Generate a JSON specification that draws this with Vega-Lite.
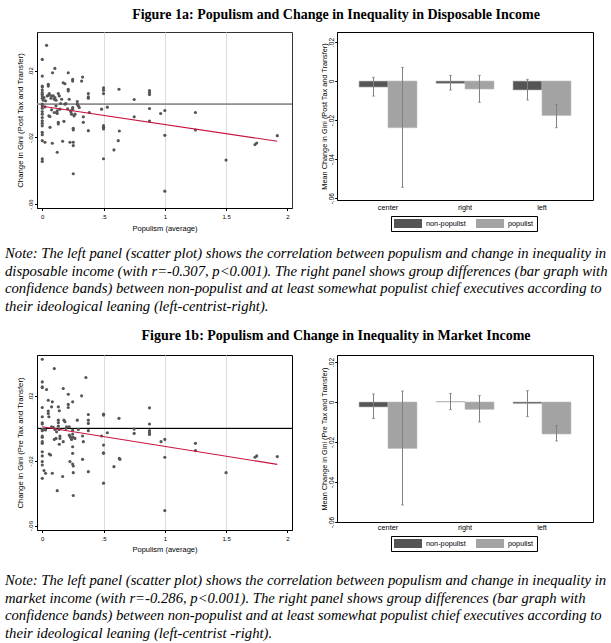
{
  "$schema": "https://vega.github.io/schema/vega-lite/v6.json",
  "background": "white",
  "padding": 0,
  "spacing": 0,
  "bounds": "flush",
  "columns": 4,
  "resolve": {"scale": {"color": "independent"}, "legend": {"color": "independent"}},
  "config": {
    "font": "Liberation Sans",
    "view": {"stroke": null},
    "axis": {"labelFont": "Liberation Sans", "titleFont": "Liberation Sans", "labelColor": "#000", "titleColor": "#000", "titleFontWeight": "normal", "tickColor": "#000", "domainColor": "#000", "labelOverlap": false, "labelFlush": false}
  },
  "datasets": {
    "title_a": [{"text": "Figure 1a: Populism and Change in Inequality in Disposable Income"}],
    "title_b": [{"text": "Figure 1b: Populism and Change in Inequality in Market Income"}],
    "note_a": [
      {"line": 1, "text": "Note: The left panel (scatter plot) shows the correlation between populism and change in inequality in"},
      {"line": 2, "text": "disposable income (with r=-0.307, p<0.001). The right panel shows group differences (bar graph with"},
      {"line": 3, "text": "confidence bands) between non-populist and at least somewhat populist chief executives according to"},
      {"line": 4, "text": "their ideological leaning (left-centrist-right)."}
    ],
    "note_b": [
      {"line": 1, "text": "Note: The left panel (scatter plot) shows the correlation between populism and change in inequality in"},
      {"line": 2, "text": "market income (with r=-0.286, p<0.001). The right panel shows group differences (bar graph with"},
      {"line": 3, "text": "confidence bands) between non-populist and at least somewhat populist chief executives according to"},
      {"line": 4, "text": "their ideological leaning (left-centrist -right)."}
    ],
    "fit_a": [{"p": 0, "g": -0.0012}, {"p": 1.918, "g": -0.0223}],
    "fit_b": [{"p": 0, "g": 0.001}, {"p": 1.918, "g": -0.0222}],
    "bars_a": [
      {"ideo": "center", "group": "non-populist", "mean": -0.0031, "lo": -0.0077, "hi": 0.0019},
      {"ideo": "center", "group": "populist", "mean": -0.0239, "lo": -0.0544, "hi": 0.007},
      {"ideo": "right", "group": "non-populist", "mean": -0.0012, "lo": -0.0046, "hi": 0.0029},
      {"ideo": "right", "group": "populist", "mean": -0.0041, "lo": -0.0109, "hi": 0.0029},
      {"ideo": "left", "group": "non-populist", "mean": -0.0046, "lo": -0.0097, "hi": 0.0009},
      {"ideo": "left", "group": "populist", "mean": -0.0177, "lo": -0.0239, "hi": -0.0119}
    ],
    "bars_b": [
      {"ideo": "center", "group": "non-populist", "mean": -0.0025, "lo": -0.0083, "hi": 0.004},
      {"ideo": "center", "group": "populist", "mean": -0.0232, "lo": -0.0515, "hi": 0.0055},
      {"ideo": "right", "group": "non-populist", "mean": 0.0002, "lo": -0.0038, "hi": 0.0043},
      {"ideo": "right", "group": "populist", "mean": -0.0037, "lo": -0.01, "hi": 0.0032},
      {"ideo": "left", "group": "non-populist", "mean": -0.0008, "lo": -0.0073, "hi": 0.0057},
      {"ideo": "left", "group": "populist", "mean": -0.016, "lo": -0.0195, "hi": -0.0118}
    ],
    "scatter_a": [
      {"p":0,"g":0.0269},{"p":0,"g":0.0169},{"p":0,"g":0.0109},{"p":0,"g":0.0103},{"p":0,"g":0.0085},{"p":0,"g":0.007},{"p":0,"g":0.006},{"p":0,"g":0.005},{"p":0,"g":0.0036},{"p":0.008,"g":0.0024},{"p":0,"g":0},{"p":0,"g":-0.001},{"p":0,"g":-0.0024},{"p":0,"g":-0.0044},{"p":0,"g":-0.006},{"p":0,"g":-0.008},{"p":0,"g":-0.01},{"p":0,"g":-0.0115},{"p":0,"g":-0.013},{"p":0,"g":-0.0169},{"p":0,"g":-0.0183},{"p":0,"g":-0.0219},{"p":0,"g":-0.0328},{"p":0,"g":-0.0344},
      {"p":0.035,"g":0.0354},{"p":0.027,"g":0.002},{"p":0.022,"g":-0.0016},{"p":0.022,"g":-0.0229},{"p":0.014,"g":0.004},{"p":0.041,"g":0.005},
      {"p":0.049,"g":0.0109},{"p":0.049,"g":0.0119},{"p":0.054,"g":0.0054},{"p":0.054,"g":-0.007},{"p":0.063,"g":-0.0139},{"p":0.057,"g":0.0064},{"p":0.071,"g":0.0036},{"p":0.062,"g":-0.0074},{"p":0.076,"g":-0.0034},
      {"p":0.076,"g":0.005},{"p":0.09,"g":0.005},{"p":0.084,"g":0.0189},{"p":0.103,"g":0.0215},{"p":0.082,"g":-0.0235},{"p":0.098,"g":0.003},{"p":0.098,"g":-0.005},
      {"p":0.103,"g":0.004},{"p":0.112,"g":-0.001},{"p":0.117,"g":-0.005},{"p":0.122,"g":-0.004},{"p":0.112,"g":0.0024},{"p":0.131,"g":0.0064},{"p":0.139,"g":0.005},{"p":0.122,"g":-0.0056},{"p":0.122,"g":-0.0289},{"p":0.131,"g":-0.0109},{"p":0.131,"g":-0.0119},{"p":0.144,"g":-0.003},{"p":0.15,"g":0.0004},{"p":0.158,"g":0.003},{"p":0.166,"g":-0.0223},{"p":0.171,"g":0.0129},{"p":0.185,"g":0.0123},{"p":0.177,"g":-0.0103},{"p":0.185,"g":0},{"p":0.193,"g":0.0004},{"p":0.207,"g":-0.0028},
      {"p":0.212,"g":0.0189},{"p":0.212,"g":0.008},{"p":0.212,"g":0.009},{"p":0.22,"g":0.003},{"p":0.226,"g":-0.0229},{"p":0.231,"g":-0.004},{"p":0.234,"g":-0.0046},{"p":0.239,"g":-0.006},{"p":0.248,"g":0.0139},{"p":0.248,"g":0.0149},{"p":0.248,"g":-0.002},{"p":0.248,"g":-0.003},{"p":0.253,"g":-0.0155},{"p":0.253,"g":-0.0145},{"p":0.253,"g":-0.0229},{"p":0.253,"g":-0.0249},{"p":0.253,"g":-0.0418},{"p":0.259,"g":-0.007},{"p":0.267,"g":-0.006},{"p":0.286,"g":0.0016},{"p":0.286,"g":0},{"p":0.294,"g":-0.001},{"p":0.302,"g":-0.002},{"p":0.329,"g":0.0163},{"p":0.321,"g":0.0139},{"p":0.335,"g":-0.0076},{"p":0.335,"g":-0.0109},{"p":0.376,"g":0.0064},{"p":0.376,"g":0.0044},{"p":0.376,"g":0.0036},{"p":0.384,"g":-0.005},{"p":0.376,"g":-0.0159},
      {"p":0.484,"g":-0.003},{"p":0.5,"g":0.0098},{"p":0.5,"g":0.0084},{"p":0.5,"g":0.0064},{"p":0.5,"g":-0.0139},{"p":0.5,"g":-0.0149},{"p":0.5,"g":-0.0129},{"p":0.5,"g":-0.0328},{"p":0.531,"g":-0.0018},{"p":0.626,"g":0.009},{"p":0.629,"g":-0.0161},{"p":0.62,"g":-0.0219},{"p":0.585,"g":-0.0275},{"p":0.75,"g":0.0028},{"p":0.75,"g":-0.0076},{"p":0.875,"g":0.0082},{"p":0.875,"g":0.007},{"p":0.875,"g":0.0058},{"p":0.875,"g":-0.0026},{"p":0.875,"g":-0.0101},{"p":0.966,"g":-0.0056},{"p":1,"g":-0.0038},{"p":1,"g":-0.0187},{"p":1,"g":-0.0523},{"p":1.25,"g":-0.005},{"p":1.25,"g":-0.0155},{"p":1.5,"g":-0.0336},{"p":1.736,"g":-0.0243},{"p":1.75,"g":-0.0233},{"p":1.918,"g":-0.0189}
    ],
    "scatter_b": [
      {"p":0,"g":0.0427},{"p":0,"g":0.0287},{"p":0,"g":0.0256},{"p":0,"g":0.0252},{"p":0,"g":0.0129},{"p":0,"g":0.0072},{"p":0,"g":0.0035},{"p":0,"g":0.0027},{"p":0,"g":-0.0006},{"p":0,"g":-0.0014},{"p":0,"g":-0.0047},{"p":0,"g":-0.0055},{"p":0,"g":-0.0082},{"p":0,"g":-0.0092},{"p":0,"g":-0.0144},{"p":0,"g":-0.017},{"p":0,"g":-0.0205},{"p":0,"g":-0.0226},{"p":0,"g":-0.0308},
      {"p":0.035,"g":0.024},{"p":0.014,"g":-0.0006},{"p":0.027,"g":-0.001},
      {"p":0.049,"g":0.0174},{"p":0.049,"g":0.0107},{"p":0.049,"g":0.0092},{"p":0.054,"g":0.0072},
      {"p":0.057,"g":-0.0158},{"p":0.068,"g":-0.0164},{"p":0.014,"g":-0.026},{"p":0.027,"g":-0.0277},
      {"p":0.082,"g":0.0164},{"p":0.082,"g":-0.0277},{"p":0.076,"g":0.0133},{"p":0.076,"g":0.001},{"p":0.09,"g":0.0006},{"p":0.098,"g":0.0369},
      {"p":0.103,"g":-0.0006},{"p":0.098,"g":-0.0068},{"p":0.112,"g":-0.0062},{"p":0.117,"g":-0.0021},{"p":0.122,"g":-0.0384},
      {"p":0.131,"g":0.0133},{"p":0.139,"g":0.0109},{"p":0.131,"g":0.0051},{"p":0.131,"g":0.0035},{"p":0.131,"g":0.0014},{"p":0.139,"g":-0.0006},
      {"p":0.144,"g":-0.0047},{"p":0.144,"g":-0.0062},{"p":0.139,"g":-0.0098},{"p":0.166,"g":-0.0297},{"p":0.171,"g":0.0246},
      {"p":0.177,"g":0.0051},{"p":0.185,"g":0.0041},{"p":0.171,"g":-0.0082},{"p":0.193,"g":0},{"p":0.199,"g":0.001},
      {"p":0.212,"g":0.0148},{"p":0.212,"g":0.0129},{"p":0.212,"g":0.0211},{"p":0.22,"g":0.001},{"p":0.226,"g":-0.0205},{"p":0.22,"g":-0.0041},{"p":0.226,"g":-0.0047},{"p":0.231,"g":-0.0055},{"p":0.239,"g":-0.0068},
      {"p":0.248,"g":0.0164},{"p":0.248,"g":-0.001},{"p":0.248,"g":-0.0035},{"p":0.253,"g":-0.0055},{"p":0.248,"g":-0.0113},{"p":0.248,"g":-0.0154},{"p":0.248,"g":-0.022},{"p":0.253,"g":-0.0232},{"p":0.253,"g":-0.0273},{"p":0.253,"g":-0.0414},
      {"p":0.267,"g":-0.0062},{"p":0.286,"g":0.0051},{"p":0.294,"g":-0.0006},{"p":0.321,"g":0.0201},{"p":0.329,"g":-0.0047},{"p":0.335,"g":-0.0082},{"p":0.329,"g":-0.0191},{"p":0.356,"g":0.0314},
      {"p":0.376,"g":0.0086},{"p":0.376,"g":0.0051},{"p":0.376,"g":0.0031},{"p":0.376,"g":-0.0014},{"p":0.376,"g":-0.0267},
      {"p":0.484,"g":-0.0047},{"p":0.5,"g":0.0088},{"p":0.5,"g":0.0082},{"p":0.5,"g":-0.0103},{"p":0.5,"g":-0.015},{"p":0.5,"g":-0.0154},{"p":0.5,"g":-0.0338},{"p":0.531,"g":-0.0027},
      {"p":0.626,"g":0.0062},{"p":0.629,"g":-0.0185},{"p":0.634,"g":-0.0191},{"p":0.585,"g":-0.0236},{"p":0.75,"g":-0.0004},{"p":0.75,"g":-0.0031},
      {"p":0.875,"g":0.0127},{"p":0.875,"g":0.0027},{"p":0.875,"g":-0.0014},{"p":0.875,"g":-0.0027},{"p":0.875,"g":-0.0037},
      {"p":0.969,"g":-0.0082},{"p":1,"g":-0.0068},{"p":1,"g":-0.0178},{"p":1,"g":-0.0507},{"p":1.25,"g":-0.0092},{"p":1.25,"g":-0.0137},{"p":1.5,"g":-0.0273},{"p":1.736,"g":-0.0178},{"p":1.75,"g":-0.017},{"p":1.918,"g":-0.0174}
    ]
  },
  "concat": [
    {
      "width": 37, "height": 32,
      "data": {"name": "title_a"},
      "mark": {"type": "text", "font": "Liberation Serif", "fontSize": 14, "fontWeight": "bold", "align": "center", "baseline": "middle", "x": 336, "y": 15, "color": "#000"},
      "encoding": {"text": {"field": "text", "type": "nominal"}}
    },
    {"width": 1, "height": 1, "data": {"values": []}, "mark": "point"},
    {"width": 1, "height": 1, "data": {"values": []}, "mark": "point"},
    {"width": 1, "height": 1, "data": {"values": []}, "mark": "point"},

    {"width": 37, "height": 1, "data": {"values": []}, "mark": "point"},
    {
      "width": 255, "height": 176,
      "view": {"stroke": "#333", "strokeWidth": 1},
      "layer": [
        {"data": {"name": "fit_a"}, "mark": {"type": "rule", "color": "#8a8a8a", "strokeWidth": 1.2}, "encoding": {"y": {"datum": 0, "type": "quantitative", "scale": {"domain": [-0.0624, 0.0434], "nice": false, "zero": false}}}},
        {"data": {"name": "scatter_a"}, "mark": {"type": "circle", "size": 10, "color": "#555555", "opacity": 1},
          "encoding": {
            "x": {"field": "p", "type": "quantitative", "scale": {"domain": [-0.043, 2.038], "nice": false, "zero": false},
              "axis": {"title": "Populism (average)", "values": [0, 0.5, 1, 1.5, 2], "labelExpr": "replace(toString(datum.value), '0.', '.')", "grid": true, "gridColor": "#dcdcdc", "gridOpacity": {"condition": {"test": "datum.value == 0 || datum.value == 2", "value": 0}, "value": 1}, "tickSize": 2.5, "labelFontSize": 6, "labelPadding": 3, "titleFontSize": 7.5, "titlePadding": 5}},
            "y": {"field": "g", "type": "quantitative", "scale": {"domain": [-0.0624, 0.0434], "nice": false, "zero": false},
              "axis": {"title": "Change in Gini (Post Tax and Transfer)", "values": [-0.06, -0.04, -0.02, 0, 0.02, 0.04], "labelExpr": "replace(toString(datum.value), '0.', '.')", "grid": false, "tickSize": 2.5, "labelAngle": 270, "labelAlign": "center", "labelBaseline": "alphabetic", "labelFontSize": 6, "labelPadding": 2, "titleFontSize": 7.8, "titlePadding": 3}}
          }},
        {"data": {"name": "fit_a"}, "mark": {"type": "line", "color": "#c8143c", "strokeWidth": 1.1},
          "encoding": {
            "x": {"field": "p", "type": "quantitative", "scale": {"domain": [-0.043, 2.038], "nice": false, "zero": false}},
            "y": {"field": "g", "type": "quantitative", "scale": {"domain": [-0.0624, 0.0434], "nice": false, "zero": false}}
          }}
      ]
    },
    {"width": 45, "height": 1, "data": {"values": []}, "mark": "point"},
    {
      "width": 256, "height": 168,
      "view": {"stroke": "#000", "strokeWidth": 1},
      "data": {"name": "bars_a"},
      "encoding": {
        "x": {"field": "ideo", "type": "nominal", "sort": ["center", "right", "left"], "scale": {"paddingInner": 0.247, "paddingOuter": 0.286},
          "axis": {"title": null, "labelAngle": 0, "ticks": false, "tickSize": 0, "domain": false, "labelPadding": 3, "labelFontSize": 7.3}},
        "xOffset": {"field": "group", "type": "nominal", "sort": ["non-populist", "populist"], "scale": {"paddingInner": 0, "paddingOuter": 0}}
      },
      "layer": [
        {"mark": {"type": "bar", "stroke": "#bdbdbd", "strokeWidth": 0.6},
          "encoding": {
            "y": {"field": "mean", "type": "quantitative", "title": "Mean Change in Gini (Post Tax and Transfer)", "scale": {"domain": [-0.0609, 0.0251], "nice": false},
              "axis": {"values": [-0.06, -0.04, -0.02, 0, 0.02], "labelExpr": "replace(toString(datum.value), '0.', '.')", "grid": false, "tickSize": 2.3, "labelAngle": 270, "labelAlign": "center", "labelBaseline": "alphabetic", "labelFontSize": 6.5, "labelPadding": 1.4, "titleFontSize": 7.3, "titlePadding": 0}},
            "color": {"field": "group", "type": "nominal", "sort": ["non-populist", "populist"], "scale": {"domain": ["non-populist", "populist"], "range": ["#555555", "#a3a3a3"]},
              "legend": {"orient": "none", "legendX": 54, "legendY": 184, "direction": "horizontal", "title": null, "strokeColor": "#000", "padding": 3, "symbolType": "M-3.111,-1H3.111V1H-3.111Z", "symbolSize": 81, "symbolStrokeWidth": 0, "symbolOffset": 9.5, "symbolOpacity": 1, "labelOffset": 13.5, "columnPadding": 10, "labelFont": "Liberation Sans", "labelFontSize": 7.3, "labelColor": "#000"}}
          }},
        {"mark": {"type": "rule", "color": "#808080", "strokeWidth": 1},
          "encoding": {"y": {"field": "lo", "type": "quantitative", "title": "Mean Change in Gini (Post Tax and Transfer)", "scale": {"domain": [-0.0609, 0.0251], "nice": false}}, "y2": {"field": "hi"}}},
        {"mark": {"type": "tick", "color": "#808080", "size": 3, "thickness": 1},
          "encoding": {"y": {"field": "lo", "type": "quantitative", "title": "Mean Change in Gini (Post Tax and Transfer)", "scale": {"domain": [-0.0609, 0.0251], "nice": false}}}},
        {"mark": {"type": "tick", "color": "#808080", "size": 3, "thickness": 1},
          "encoding": {"y": {"field": "hi", "type": "quantitative", "title": "Mean Change in Gini (Post Tax and Transfer)", "scale": {"domain": [-0.0609, 0.0251], "nice": false}}}}
      ]
    },

    {"width": 1, "height": 37, "data": {"values": []}, "mark": "point"},
    {"width": 1, "height": 1, "data": {"values": []}, "mark": "point"},
    {"width": 1, "height": 1, "data": {"values": []}, "mark": "point"},
    {"width": 1, "height": 1, "data": {"values": []}, "mark": "point"},

    {
      "width": 37, "height": 71,
      "data": {"name": "note_a"},
      "mark": {"type": "text", "font": "Liberation Serif", "fontSize": 14.7, "fontStyle": "italic", "align": "left", "baseline": "middle", "x": 5, "color": "#000"},
      "encoding": {"text": {"field": "text", "type": "nominal"}, "y": {"field": "line", "type": "ordinal", "axis": null, "scale": {"type": "point", "padding": 0.5}}}
    },
    {"width": 1, "height": 1, "data": {"values": []}, "mark": "point"},
    {"width": 1, "height": 1, "data": {"values": []}, "mark": "point"},
    {"width": 1, "height": 1, "data": {"values": []}, "mark": "point"},

    {
      "width": 37, "height": 39,
      "data": {"name": "title_b"},
      "mark": {"type": "text", "font": "Liberation Serif", "fontSize": 14, "fontWeight": "bold", "align": "center", "baseline": "middle", "x": 336, "y": 19.5, "color": "#000"},
      "encoding": {"text": {"field": "text", "type": "nominal"}}
    },
    {"width": 1, "height": 1, "data": {"values": []}, "mark": "point"},
    {"width": 1, "height": 1, "data": {"values": []}, "mark": "point"},
    {"width": 1, "height": 1, "data": {"values": []}, "mark": "point"},

    {"width": 37, "height": 1, "data": {"values": []}, "mark": "point"},
    {
      "width": 255, "height": 175,
      "view": {"stroke": "#000", "strokeWidth": 1},
      "layer": [
        {"data": {"name": "fit_b"}, "mark": {"type": "rule", "color": "#000000", "strokeWidth": 1}, "encoding": {"y": {"datum": 0, "type": "quantitative", "scale": {"domain": [-0.0627, 0.0453], "nice": false, "zero": false}}}},
        {"data": {"name": "scatter_b"}, "mark": {"type": "circle", "size": 10, "color": "#555555", "opacity": 1},
          "encoding": {
            "x": {"field": "p", "type": "quantitative", "scale": {"domain": [-0.043, 2.038], "nice": false, "zero": false},
              "axis": {"title": "Populism (average)", "values": [0, 0.5, 1, 1.5, 2], "labelExpr": "replace(toString(datum.value), '0.', '.')", "grid": true, "gridColor": "#dcdcdc", "gridOpacity": {"condition": {"test": "datum.value == 0 || datum.value == 2", "value": 0}, "value": 1}, "tickSize": 2.5, "labelFontSize": 6, "labelPadding": 3, "titleFontSize": 7.5, "titlePadding": 3.5}},
            "y": {"field": "g", "type": "quantitative", "scale": {"domain": [-0.0627, 0.0453], "nice": false, "zero": false},
              "axis": {"title": "Change in Gini (Pre Tax and Transfer)", "values": [-0.06, -0.04, -0.02, 0, 0.02, 0.04], "labelExpr": "replace(toString(datum.value), '0.', '.')", "grid": false, "tickSize": 2.5, "labelAngle": 270, "labelAlign": "center", "labelBaseline": "alphabetic", "labelFontSize": 6, "labelPadding": 2, "titleFontSize": 7.8, "titlePadding": 3}}
          }},
        {"data": {"name": "fit_b"}, "mark": {"type": "line", "color": "#c8143c", "strokeWidth": 1.1},
          "encoding": {
            "x": {"field": "p", "type": "quantitative", "scale": {"domain": [-0.043, 2.038], "nice": false, "zero": false}},
            "y": {"field": "g", "type": "quantitative", "scale": {"domain": [-0.0627, 0.0453], "nice": false, "zero": false}}
          }}
      ]
    },
    {"width": 45, "height": 1, "data": {"values": []}, "mark": "point"},
    {
      "width": 256, "height": 167,
      "view": {"stroke": "#000", "strokeWidth": 1},
      "data": {"name": "bars_b"},
      "encoding": {
        "x": {"field": "ideo", "type": "nominal", "sort": ["center", "right", "left"], "scale": {"paddingInner": 0.247, "paddingOuter": 0.286},
          "axis": {"title": null, "labelAngle": 0, "ticks": false, "tickSize": 0, "domain": false, "labelPadding": 1.5, "labelFontSize": 7.3}},
        "xOffset": {"field": "group", "type": "nominal", "sort": ["non-populist", "populist"], "scale": {"paddingInner": 0, "paddingOuter": 0}}
      },
      "layer": [
        {"mark": {"type": "bar", "stroke": "#bdbdbd", "strokeWidth": 0.6},
          "encoding": {
            "y": {"field": "mean", "type": "quantitative", "title": "Mean Change in Gini (Pre Tax and Transfer)", "scale": {"domain": [-0.06, 0.0235], "nice": false},
              "axis": {"values": [-0.06, -0.04, -0.02, 0, 0.02], "labelExpr": "replace(toString(datum.value), '0.', '.')", "grid": false, "tickSize": 2.3, "labelAngle": 270, "labelAlign": "center", "labelBaseline": "alphabetic", "labelFontSize": 6.5, "labelPadding": 1.4, "titleFontSize": 7.3, "titlePadding": 0}},
            "color": {"field": "group", "type": "nominal", "sort": ["non-populist", "populist"], "scale": {"domain": ["non-populist", "populist"], "range": ["#555555", "#a3a3a3"]},
              "legend": {"orient": "none", "legendX": 54, "legendY": 181, "direction": "horizontal", "title": null, "strokeColor": "#000", "padding": 3, "symbolType": "M-3.111,-1H3.111V1H-3.111Z", "symbolSize": 81, "symbolStrokeWidth": 0, "symbolOffset": 9.5, "symbolOpacity": 1, "labelOffset": 13.5, "columnPadding": 10, "labelFont": "Liberation Sans", "labelFontSize": 7.3, "labelColor": "#000"}}
          }},
        {"mark": {"type": "rule", "color": "#808080", "strokeWidth": 1},
          "encoding": {"y": {"field": "lo", "type": "quantitative", "title": "Mean Change in Gini (Pre Tax and Transfer)", "scale": {"domain": [-0.06, 0.0235], "nice": false}}, "y2": {"field": "hi"}}},
        {"mark": {"type": "tick", "color": "#808080", "size": 3, "thickness": 1},
          "encoding": {"y": {"field": "lo", "type": "quantitative", "title": "Mean Change in Gini (Pre Tax and Transfer)", "scale": {"domain": [-0.06, 0.0235], "nice": false}}}},
        {"mark": {"type": "tick", "color": "#808080", "size": 3, "thickness": 1},
          "encoding": {"y": {"field": "hi", "type": "quantitative", "title": "Mean Change in Gini (Pre Tax and Transfer)", "scale": {"domain": [-0.06, 0.0235], "nice": false}}}}
      ]
    },

    {"width": 1, "height": 42, "data": {"values": []}, "mark": "point"},
    {"width": 1, "height": 1, "data": {"values": []}, "mark": "point"},
    {"width": 1, "height": 1, "data": {"values": []}, "mark": "point"},
    {"width": 1, "height": 1, "data": {"values": []}, "mark": "point"},

    {
      "width": 37, "height": 71,
      "data": {"name": "note_b"},
      "mark": {"type": "text", "font": "Liberation Serif", "fontSize": 14.7, "fontStyle": "italic", "align": "left", "baseline": "middle", "x": 5, "color": "#000"},
      "encoding": {"text": {"field": "text", "type": "nominal"}, "y": {"field": "line", "type": "ordinal", "axis": null, "scale": {"type": "point", "padding": 0.5}}}
    },
    {"width": 1, "height": 1, "data": {"values": []}, "mark": "point"},
    {"width": 1, "height": 1, "data": {"values": []}, "mark": "point"},
    {"width": 1, "height": 1, "data": {"values": []}, "mark": "point"}
  ]
}
